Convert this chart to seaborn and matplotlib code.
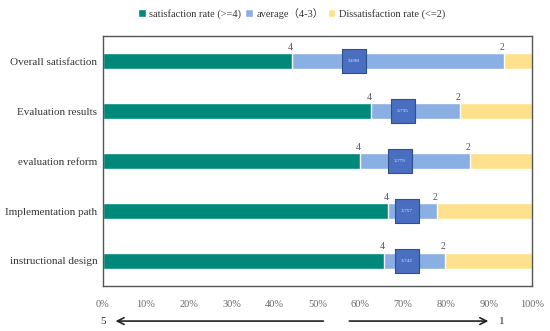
import numpy as np
import pandas as pd
import matplotlib
matplotlib.use('Agg')
import matplotlib.pyplot as plt
import seaborn as sns

sns.set_theme(style='white')
plt.rcParams['font.family'] = ['Liberation Serif', 'Noto Sans CJK SC', 'DejaVu Sans']

categories = ['Overall satisfaction', 'Evaluation results', 'evaluation reform',
              'Implementation path', 'instructional design']
sat = [44.1, 62.5, 59.9, 66.5, 65.5]        # satisfaction rate (>=4), %
avg = [49.4, 20.7, 25.6, 11.3, 14.2]        # average (4-3), %
dis = [6.5, 16.8, 14.5, 22.2, 20.3]         # dissatisfaction rate (<=2), %
mean_score = [3.698, 3.735, 3.779, 3.757, 3.742]
mean_pos = [58.6, 69.9, 69.2, 70.9, 70.9]   # where the score box sits, %
xticks = [0, 10, 20, 30, 40, 50, 60, 70, 80, 90, 100]

GREEN = '#00897b'
BLUE = '#8aafe2'
YELLOW = '#ffe08c'
BOX = '#4a6fc1'

df = pd.DataFrame({'cat': categories, 'sat': sat, 'avg': avg, 'dis': dis})
df['upto_avg'] = df['sat'] + df['avg']
df['total'] = df['upto_avg'] + df['dis']

fig = plt.figure(figsize=(5.5, 3.31), dpi=100)
ax = fig.add_axes([0.187, 0.136, 0.78, 0.755])

sns.barplot(data=df, x='total', y='cat', orient='h', color=YELLOW, width=0.33,
            saturation=1, ax=ax, label='Dissatisfaction rate (<=2)')
sns.barplot(data=df, x='upto_avg', y='cat', orient='h', color=BLUE, width=0.33,
            saturation=1, ax=ax, label='average（4-3）')
sns.barplot(data=df, x='sat', y='cat', orient='h', color=GREEN, width=0.33,
            saturation=1, ax=ax, label='satisfaction rate (>=4)')
handles, labels = ax.get_legend_handles_labels()
if ax.get_legend() is not None:
    ax.get_legend().remove()

for i in range(len(categories)):
    ax.text(sat[i] - 0.4, i - 0.19, '4', ha='center', va='bottom', fontsize=7, color='#555555')
    ax.text(sat[i] + avg[i] - 0.4, i - 0.19, '2', ha='center', va='bottom', fontsize=7, color='#555555')
    ax.scatter(mean_pos[i], i, marker='s', s=290, color=BOX, edgecolor='#2f4e8c',
               linewidth=0.8, zorder=5)
    ax.text(mean_pos[i], i, f'{mean_score[i]:.3f}', ha='center', va='center',
            fontsize=3.8, color='#dde6f7', zorder=6)

ax.set_xlim(0, 100)
ax.set_ylim(4.5, -0.5)
ax.set_xticks(xticks)
ax.set_xticklabels([f'{t}%' for t in xticks])
ax.tick_params(axis='x', length=0, pad=10, labelsize=7.5, labelcolor='#666666')
ax.tick_params(axis='y', length=0, pad=4, labelsize=8, labelcolor='#333333')
ax.set_xlabel('')
ax.set_ylabel('')
for sp in ax.spines.values():
    sp.set_visible(True)
    sp.set_color('#555555')
    sp.set_linewidth(1)

order = [2, 1, 0]
fig.legend([handles[k] for k in order], [labels[k] for k in order],
           loc='center', bbox_to_anchor=(0.53, 0.96), ncol=3, frameon=False,
           fontsize=7.5, handlelength=0.7, handleheight=0.7, handletextpad=0.35,
           columnspacing=0.4, labelcolor='#333333')

# direction arrows under the axis
fig.text(0.187, 0.03, '5', ha='center', va='center', fontsize=8)
fig.text(0.912, 0.03, '1', ha='center', va='center', fontsize=8)
fig.patches.append(matplotlib.patches.FancyArrowPatch(
    (0.593, 0.03), (0.205, 0.03), transform=fig.transFigure, arrowstyle='->',
    mutation_scale=12, color='#222222', linewidth=1.2))
fig.patches.append(matplotlib.patches.FancyArrowPatch(
    (0.63, 0.03), (0.893, 0.03), transform=fig.transFigure, arrowstyle='->',
    mutation_scale=12, color='#222222', linewidth=1.2))

fig.savefig('out.png', dpi=100)
